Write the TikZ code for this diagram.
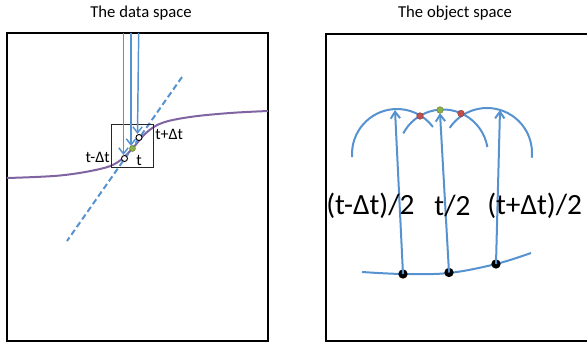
\documentclass[tikz,border=0pt]{standalone}
\usepackage{fontspec}
\setmainfont{Carlito}
\usetikzlibrary{arrows.meta}
\definecolor{lblue}{RGB}{86,146,208}
\definecolor{lpurple}{RGB}{128,100,162}
\definecolor{lgreen}{RGB}{140,176,70}
\definecolor{lred}{RGB}{192,80,77}
\tikzset{
  frame/.style={draw=black,line width=1.5pt},
  ray/.style={draw=lblue,line width=1.1pt,-{Straight Barb[length=4.5pt,width=7pt]}},
  bigray/.style={draw=lblue,line width=1.5pt,-{Straight Barb[length=5pt,width=7pt]}},
  arcline/.style={draw=lblue,line width=1.5pt},
  opendot/.style={circle,draw=black,fill=white,line width=0.7pt,inner sep=0pt,minimum size=4.5pt},
  bdot/.style={circle,fill=black,inner sep=0pt,minimum size=7pt},
  gdot/.style={circle,fill=lgreen,draw=lgreen!70!black,line width=0.3pt,inner sep=0pt,minimum size=5pt},
  rdot/.style={circle,fill=lred,draw=lred!70!black,line width=0.3pt,inner sep=0pt,minimum size=5pt},
  title/.style={font=\fontsize{12.5}{15}\selectfont},
  small/.style={font=\fontsize{12}{14}\selectfont,inner sep=0pt},
  big/.style={font=\fontsize{22}{26}\selectfont,inner sep=0pt}
}
\begin{document}
\begin{tikzpicture}[x=0.75pt,y=-0.75pt]
\useasboundingbox (0,0) rectangle (587,343);
% titles
\node[title] (t1) at (141,13) {The data space};
\node[title] (t2) at (455,13) {The object space};
% frames
\draw[frame] (7,33) rectangle (268,341);
\begin{scope}
\clip (300,0) rectangle (587,343);
\draw[frame] (326,34) rectangle (600,341);
\end{scope}
% left panel
\draw[draw=lpurple,line width=1.5pt] plot[smooth,tension=0.6] coordinates
  {(7,178) (60,175.5) (100,169) (118,162) (132,149) (146,133) (162,123) (190,117) (230,113) (268,111)};
\draw[lblue,line width=1.5pt,dash pattern=on 4.5pt off 2.5pt] (182,77) -- (67,241);
\draw[black!85,line width=0.6pt] (111,124) rectangle (153,167);
\coordinate (a1) at (123.5,33);
\coordinate (a2) at (131,33);
\coordinate (a3) at (138.7,33);
\coordinate (b1) at (123.5,155);
\coordinate (b2) at (131,146);
\coordinate (b3) at (137.5,134);
\draw[ray] (a1) -- (b1);
\draw[ray] (a2) -- (b2);
\draw[ray] (a3) -- (b3);
\node[opendot] (p1) at (124.5,158.5) {};
\node[opendot] (p3) at (139,137.5) {};
\node[gdot,minimum size=4.5pt] (p2) at (132.5,148.5) {};
\node[small,anchor=east] (l1) at (110,157) {t-Δt};
\node[small] (l2) at (139,160) {t};
\node[small,anchor=west] (l3) at (155,134) {t+Δt};
% right panel
\draw[arcline] ([shift={(176:45)}]397,154) arc[start angle=176,end angle=323,radius=45];
\draw[arcline] ([shift={(208:45)}]443,154.5) arc[start angle=208,end angle=350.5,radius=45];
\draw[arcline] ([shift={(214:45)}]487,153) arc[start angle=214,end angle=366,radius=45];
\draw[lblue,line width=1.5pt] plot[smooth,tension=0.6] coordinates
  {(362,272) (403,274) (449,273) (496,264) (531,253)};
\node[bdot] (q1) at (403,274) {};
\node[bdot] (q2) at (449,272.5) {};
\node[bdot] (q3) at (496,264) {};
\coordinate (r1) at (395,110);
\coordinate (r2) at (440,113);
\coordinate (r3) at (500,110);
\draw[bigray] (q1.center) -- (r1);
\draw[bigray] (q2.center) -- (r2);
\draw[bigray] (q3.center) -- (r3);
\node[rdot] (s1) at (420,116) {};
\node[rdot] (s2) at (461,113.5) {};
\node[gdot] (s0) at (440,110) {};
\node[big,anchor=west] (m1) at (326,206) {(t-Δt)/2};
\node[big] (m2) at (452.5,206) {t/2};
\node[big,anchor=west] (m3) at (487,206) {(t+Δt)/2};
\end{tikzpicture}
\end{document}
